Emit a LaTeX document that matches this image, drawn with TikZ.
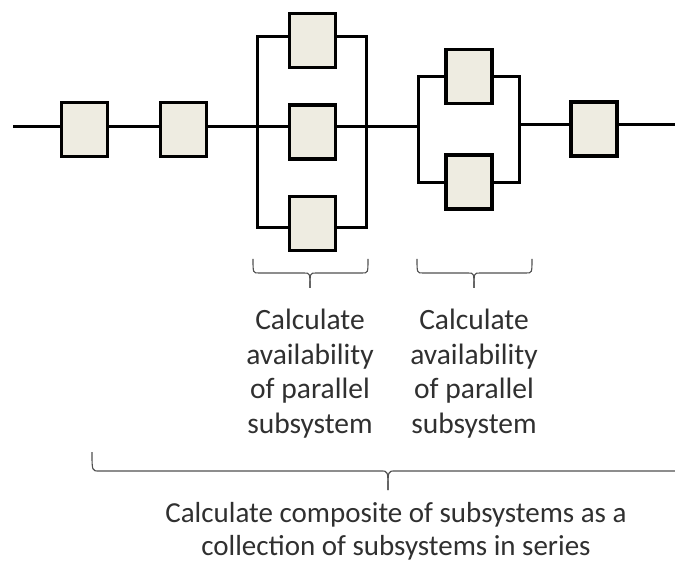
\documentclass[tikz,border=0pt]{standalone}
\usepackage{fontspec}
\setmainfont{Carlito}
\begin{document}
\begin{tikzpicture}[x=1pt,y=-1pt,
  blk/.style={draw=black,fill=boxfill,line width=3.4pt,minimum width=46pt,minimum height=54pt,inner sep=0pt},
  wire/.style={draw=black,line width=3pt},
  brace/.style={draw=bracegray,line width=1.1pt},
  lbl/.style={text=txtgray,font=\fontsize{29.5}{34.5}\selectfont,align=center,inner sep=0pt}]
\definecolor{boxfill}{HTML}{EEECE1}
\definecolor{bracegray}{HTML}{505050}
\definecolor{txtgray}{HTML}{303030}
\useasboundingbox (0,0) rectangle (675,561);
% series boxes
\node[blk] (s1) at (84.5,129.5) {};
\node[blk] (s2) at (183.5,129.5) {};
% parallel group A
\node[blk] (a1) at (312.5,40.5) {};
\node[blk] (a2) at (312.5,132) {};
\node[blk] (a3) at (312.5,223.5) {};
% parallel group B
\node[blk] (b1) at (469,76.5) {};
\node[blk] (b2) at (469,182) {};
% last series box
\node[blk] (c1) at (594,129) {};
% bus coordinates
\coordinate (in) at (13,127);
\coordinate (out) at (675,125);
\coordinate (aLT) at (257,37);
\coordinate (aLM) at (257,127);
\coordinate (aLB) at (257,228);
\coordinate (aRT) at (366,37);
\coordinate (aRM) at (366,127);
\coordinate (aRB) at (366,228);
\coordinate (bLT) at (418,77);
\coordinate (bLM) at (418,127);
\coordinate (bLB) at (418,183);
\coordinate (bRT) at (519,77);
\coordinate (bRM) at (519,125);
\coordinate (bRB) at (519,183);
% series wires
\draw[wire] (in) -- (in -| s1.west);
\draw[wire] (s1.east |- in) -- (s2.west |- in);
\draw[wire] (s2.east |- in) -- (aLM);
% group A
\draw[wire] (aLT -| a1.west) -- (aLT) -- (aLB) -- (aLB -| a3.west);
\draw[wire] (aLM) -- (aLM -| a2.west);
\draw[wire] (aRT -| a1.east) -- (aRT) -- (aRB) -- (aRB -| a3.east);
\draw[wire] (aRM -| a2.east) -- (aRM);
% link A to B
\draw[wire] (aRM) -- (bLM);
% group B
\draw[wire] (bLT -| b1.west) -- (bLT) -- (bLB) -- (bLB -| b2.west);
\draw[wire] (bRT -| b1.east) -- (bRT) -- (bRB) -- (bRB -| b2.east);
% to last box and out
\draw[wire] (bRM) -- (bRM -| c1.west);
\draw[wire] (c1.east |- out) -- (out);
% braces
\draw[brace] (253,259) .. controls (253,273) .. (259,273) -- (304,273) .. controls (310,273) .. (310,288);
\draw[brace] (310,288) .. controls (310,273) .. (316,273) -- (362,273) .. controls (368,273) .. (368,259);
\draw[brace] (417,259) .. controls (417,273) .. (423,273) -- (468,273) .. controls (474,273) .. (474,288);
\draw[brace] (474,288) .. controls (474,273) .. (480,273) -- (526,273) .. controls (532,273) .. (532,259);
\draw[brace] (92,452) .. controls (92,471) .. (99,471) -- (381,471) .. controls (388,471) .. (388,490);
\draw[brace] (388,490) .. controls (388,471) .. (395,471) -- (675,471);
% labels
\node[lbl,anchor=base] (ta) at (310,433) {Calculate\\availability\\of parallel\\subsystem};
\node[lbl,anchor=base] (tb) at (474,433) {Calculate\\availability\\of parallel\\subsystem};
\node[lbl,anchor=base,font=\fontsize{29}{33}\selectfont] (tc) at (396,555) {Calculate composite of subsystems as a\\collection of subsystems in series};
\end{tikzpicture}
\end{document}
